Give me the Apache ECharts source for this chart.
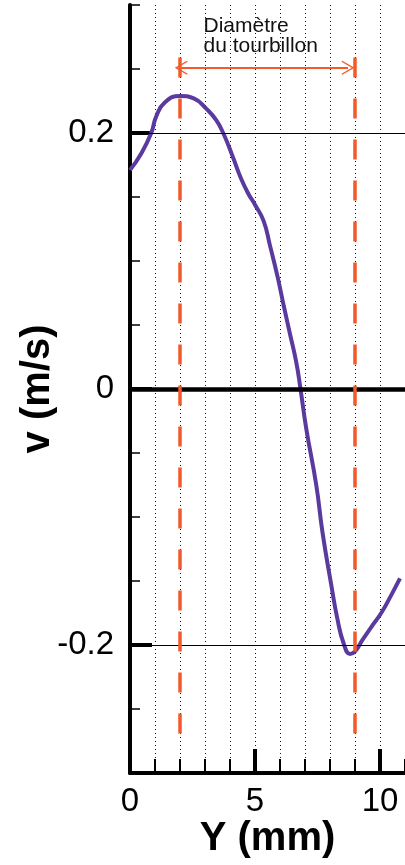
<!DOCTYPE html>
<html>
<head>
<meta charset="utf-8">
<script src="https://cdn.jsdelivr.net/npm/echarts@6/dist/echarts.min.js"></script>
<style>
html,body{margin:0;padding:0;background:#fff;}
#chart{width:405px;height:865px;}
</style>
</head>
<body>
<div id="chart"></div>
<script>
// profil de vitesse v le long de Y
var yPos = [0, 0.45, 0.85, 1.05, 1.4, 2.0, 2.55, 3.05, 3.45, 3.75, 4.1, 4.45, 4.75, 5.0, 5.35, 5.6, 5.9, 6.15, 6.4, 6.65, 6.82, 7.05, 7.45, 7.7, 8.05, 8.3, 8.55, 8.8, 9.0, 9.3, 9.65, 10.05, 10.45, 10.8];
var vVals = [0.171, 0.184, 0.200, 0.213, 0.224, 0.229, 0.227, 0.219, 0.210, 0.199, 0.182, 0.164, 0.152, 0.144, 0.131, 0.112, 0.088, 0.065, 0.043, 0.021, 0.000, -0.031, -0.075, -0.112, -0.153, -0.180, -0.199, -0.207, -0.205, -0.196, -0.186, -0.175, -0.161, -0.148];
var xMajor = [0, 5, 10];
var vMajor = [-0.2, 0, 0.2];
var refLines = [0.2, 0, -0.2];
var vortexEdges = [2, 9];
var arrowSpan = [2.05, 8.72];
var arrowV = 0.251;
var noteAt = [2.94, 0.2758];
var noteText = 'Diamètre\ndu tourbillon';

var font = "'Liberation Sans', Arial, sans-serif";
var red = '#f25a2a';
var purple = '#5a3a9e';

var pts = [];
for (var i = 0; i < yPos.length; i++) {
    pts.push([yPos[i], vVals[i]]);
}

var hLines = [];
for (var i = 0; i < refLines.length; i++) {
    hLines.push({
        yAxis: refLines[i],
        lineStyle: {color: '#000', width: refLines[i] == 0 ? 4.5 : 1, type: 'solid'}
    });
}

var vLines = [];
for (var i = 0; i < vortexEdges.length; i++) {
    vLines.push([
        {coord: [vortexEdges[i], 0.259]},
        {coord: [vortexEdges[i], -0.278]}
    ]);
}

var chevron = 'path://M0,0 L9,16 L7.6,17 L0,3.5 L-7.6,17 L-9,16 Z';

var option = {
    animation: false,
    backgroundColor: '#fff',
    grid: {left: 130, top: 5, bottom: 92, right: -5.5, containLabel: false},
    xAxis: [
        {
            type: 'value', min: 0, max: 11, interval: 1, position: 'bottom',
            name: 'Y (mm)', nameLocation: 'middle', nameGap: 46,
            nameTextStyle: {fontFamily: font, fontSize: 40, fontWeight: 'bold', color: '#000'},
            axisLine: {show: true, onZero: false, lineStyle: {color: '#000', width: 4}},
            axisTick: {show: true, inside: true, length: 14, lineStyle: {color: '#000', width: 2}},
            axisLabel: {show: false},
            splitLine: {show: true, lineStyle: {color: '#111', width: 1, type: [1, 3]}}
        },
        {
            type: 'value', min: 0, max: 11, interval: 5, position: 'bottom',
            axisLine: {show: false, onZero: false},
            axisTick: {show: true, inside: true, length: 24, customValues: xMajor, lineStyle: {color: '#000', width: 4}},
            axisLabel: {show: true, customValues: xMajor, margin: 12, fontFamily: font, fontSize: 33, color: '#000'},
            splitLine: {show: false}
        }
    ],
    yAxis: [
        {
            type: 'value', min: -0.3, max: 0.3, interval: 0.05, position: 'left',
            name: 'v (m/s)', nameLocation: 'middle', nameGap: 72, nameRotate: 90,
            nameTextStyle: {fontFamily: font, fontSize: 40, fontWeight: 'bold', color: '#000'},
            axisLine: {show: true, onZero: false, lineStyle: {color: '#000', width: 4}},
            axisTick: {show: true, inside: true, length: 10, lineStyle: {color: '#000', width: 1.5}},
            axisLabel: {show: false},
            splitLine: {show: false}
        },
        {
            type: 'value', min: -0.3, max: 0.3, interval: 0.1, position: 'left',
            axisLine: {show: false, onZero: false},
            axisTick: {show: true, inside: true, length: 22, customValues: vMajor, lineStyle: {color: '#000', width: 4}},
            axisLabel: {show: true, customValues: vMajor, margin: 16, fontFamily: font, fontSize: 33, color: '#000'},
            splitLine: {show: false}
        }
    ],
    series: [
        {
            type: 'line', data: [], xAxisIndex: 0, yAxisIndex: 0, z: 1,
            markLine: {silent: true, symbol: 'none', label: {show: false}, data: hLines}
        },
        {
            type: 'line', data: pts, xAxisIndex: 0, yAxisIndex: 0, z: 3,
            showSymbol: false, smooth: 0.5,
            lineStyle: {color: purple, width: 4}
        },
        {
            type: 'line', data: [], xAxisIndex: 0, yAxisIndex: 0, z: 5,
            markLine: {
                silent: true, symbol: 'none', z: 5, label: {show: false},
                lineStyle: {color: red, width: 3.5, type: [20, 21]},
                data: vLines
            }
        },
        {
            type: 'line', data: [], xAxisIndex: 0, yAxisIndex: 0, z: 6,
            markLine: {
                silent: true, z: 6,
                symbol: [chevron, chevron], symbolSize: [14, 13],
                label: {show: false},
                lineStyle: {color: red, width: 2, type: 'solid'},
                itemStyle: {color: red},
                data: [[{coord: [arrowSpan[0], arrowV]}, {coord: [arrowSpan[1], arrowV]}]]
            },
            markPoint: {
                silent: true, symbol: 'circle', symbolSize: 0,
                label: {
                    show: true, position: 'inside', align: 'left', verticalAlign: 'middle',
                    fontFamily: font, fontSize: 21, lineHeight: 20, color: '#111',
                    formatter: noteText
                },
                data: [{coord: noteAt}]
            }
        }
    ]
};

var chart = echarts.init(document.getElementById('chart'));
chart.setOption(option);
</script>
</body>
</html>
